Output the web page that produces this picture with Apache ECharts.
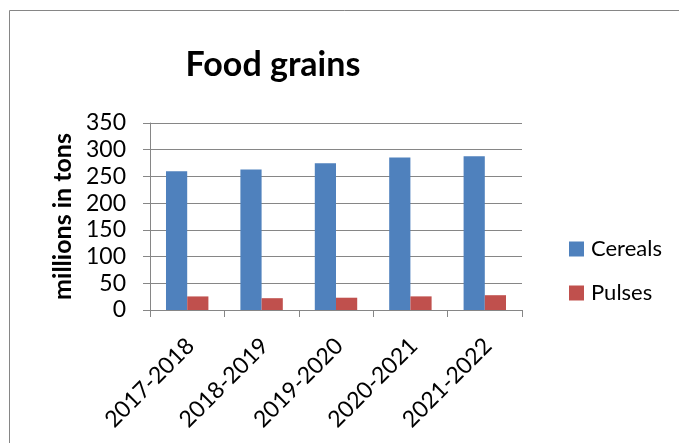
<!DOCTYPE html>
<html>
<head>
<meta charset="utf-8">
<script src="https://cdn.jsdelivr.net/npm/echarts@6/dist/echarts.min.js"></script>
<style>
html,body{margin:0;padding:0;background:#fff;}
#chart{width:679px;height:443px;}
</style>
</head>
<body>
<div id="chart"></div>
<script>
var categories = ['2017-2018', '2018-2019', '2019-2020', '2020-2021', '2021-2022'];
var cereals = [259.6, 263.1, 274.5, 285.3, 288.0];
var pulses = [25.4, 22.1, 23.0, 25.5, 27.7];
var yTicks = [0, 50, 100, 150, 200, 250, 300, 350];

var FONT = 'Lato, "Open Sans", sans-serif';
var chart = echarts.init(document.getElementById('chart'), null, {renderer: 'canvas'});
chart.setOption({
  animation: false,
  backgroundColor: '#ffffff',
  graphic: [{
    type: 'rect',
    shape: {x: 9.5, y: 10.5, width: 700, height: 500},
    style: {fill: 'none', stroke: '#868686', lineWidth: 1},
    silent: true
  }],
  title: {
    text: 'Food grains',
    left: 268,
    textAlign: 'center',
    top: 43,
    textStyle: {fontFamily: FONT, fontWeight: 'bold', fontSize: 34, color: '#000'}
  },
  legend: {
    orient: 'vertical',
    left: 564,
    top: 233,
    itemWidth: 15,
    itemHeight: 15,
    itemGap: 22,
    icon: 'rect',
    textStyle: {fontFamily: FONT, fontSize: 22, color: '#000', padding: [0, 0, 0, 2]},
    data: ['Cereals', 'Pulses']
  },
  grid: {left: 150, top: 123, right: 157, bottom: 133, containLabel: false},
  xAxis: {
    type: 'category',
    data: categories,
    axisLine: {show: true, lineStyle: {color: '#868686', width: 1}},
    axisTick: {show: true, length: 7, alignWithLabel: false, lineStyle: {color: '#868686'}},
    axisLabel: {rotate: 45, margin: 19, verticalAlign: 'top', padding: [0, 7, 0, 0], fontFamily: FONT, fontSize: 23, color: '#000', interval: 0},
    splitLine: {show: false}
  },
  yAxis: {
    type: 'value',
    min: yTicks[0],
    max: yTicks[yTicks.length - 1],
    interval: 50,
    name: 'millions in tons',
    nameLocation: 'middle',
    nameGap: 60,
    nameRotate: 90,
    nameTextStyle: {fontFamily: FONT, fontWeight: 'bold', fontSize: 25, color: '#000'},
    axisLine: {show: true, lineStyle: {color: '#868686', width: 1}},
    axisTick: {show: true, length: 7, lineStyle: {color: '#868686'}},
    axisLabel: {margin: 24, fontFamily: FONT, fontSize: 23, color: '#000'},
    splitLine: {show: true, lineStyle: {color: '#868686', width: 1}}
  },
  series: [
    {name: 'Cereals', type: 'bar', data: cereals, barGap: '0%', barCategoryGap: '43%',
     itemStyle: {color: '#4F81BD'}},
    {name: 'Pulses', type: 'bar', data: pulses, barGap: '0%', barCategoryGap: '43%',
     itemStyle: {color: '#C0504D'}}
  ]
});
</script>
</body>
</html>
